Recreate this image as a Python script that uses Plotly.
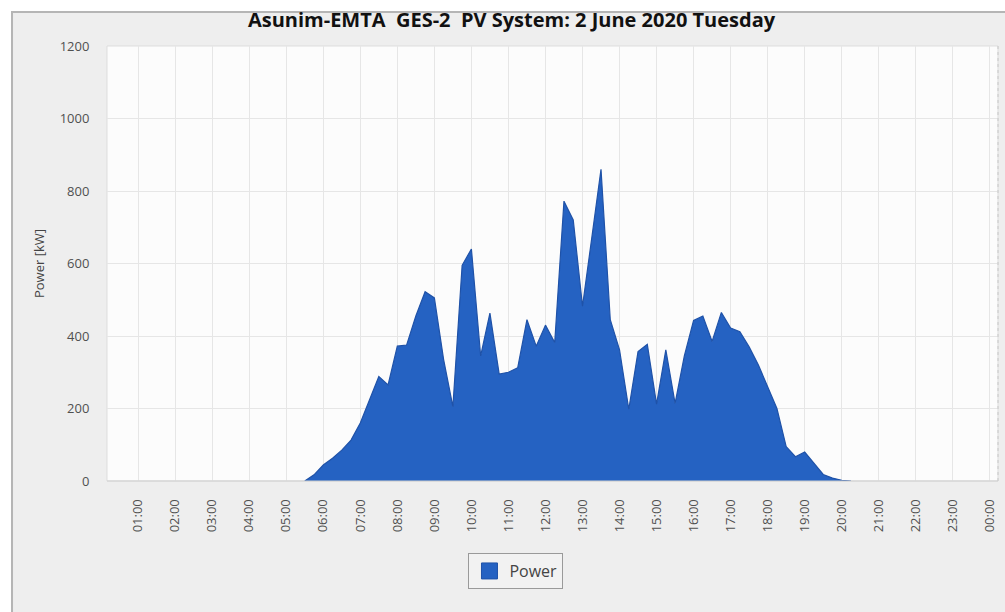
import plotly.graph_objects as go

# Time of day in hours (15-minute resolution) and power in kW
hours = [5.5, 5.75, 6.0, 6.25, 6.5, 6.75, 7.0, 7.25, 7.5, 7.75,
         8.0, 8.25, 8.5, 8.75, 9.0, 9.25, 9.5, 9.75, 10.0, 10.25,
         10.5, 10.75, 11.0, 11.25, 11.5, 11.75, 12.0, 12.25, 12.5, 12.75,
         13.0, 13.25, 13.5, 13.75, 14.0, 14.25, 14.5, 14.75, 15.0, 15.25,
         15.5, 15.75, 16.0, 16.25, 16.5, 16.75, 17.0, 17.25, 17.5, 17.75,
         18.0, 18.25, 18.5, 18.75, 19.0, 19.25, 19.5, 19.75, 20.0, 20.25]
power = [0, 17, 44, 63, 85, 113, 160, 223, 288, 265,
         372, 375, 455, 522, 505, 335, 205, 595, 640, 345,
         463, 295, 300, 312, 445, 372, 430, 382, 772, 720,
         482, 670, 860, 445, 362, 198, 357, 377, 212, 362,
         214, 345, 443, 455, 385, 465, 422, 412, 370, 320,
         262, 200, 95, 67, 80, 50, 18, 8, 2, 0]

tick_hours = list(range(1, 25))
tick_labels = ["01:00", "02:00", "03:00", "04:00", "05:00", "06:00", "07:00", "08:00",
               "09:00", "10:00", "11:00", "12:00", "13:00", "14:00", "15:00", "16:00",
               "17:00", "18:00", "19:00", "20:00", "21:00", "22:00", "23:00", "00:00"]
y_ticks = [0, 200, 400, 600, 800, 1000, 1200]

title_text = "Asunim-EMTA  GES-2  PV System: 2 June 2020 Tuesday"
series_name = "Power"
area_color = "#2562c2"

fig = go.Figure()
fig.add_trace(go.Scatter(
    x=hours, y=power, name=series_name, mode="lines",
    fill="tozeroy", fillcolor=area_color, showlegend=False,
    line=dict(color="#1f52a8", width=1.2),
))
# legend entry with a square swatch
fig.add_trace(go.Scatter(
    x=[None], y=[None], name=series_name, mode="markers",
    marker=dict(symbol="square", size=20, color=area_color,
                line=dict(color="#1f52a8", width=1)),
))

fig.update_layout(
    width=1005, height=612,
    margin=dict(l=107, r=7, t=46, b=131),
    paper_bgcolor="white",
    plot_bgcolor="#fcfcfc",
    title=dict(text="<b>" + title_text + "</b>", x=0.509, xanchor="center",
               y=0.967, yanchor="middle",
               font=dict(family="Open Sans", size=20, color="#111111")),
    showlegend=True,
    legend=dict(orientation="h", x=0.459, xanchor="center", y=-0.207, yanchor="middle",
                bgcolor="#f2f2f2", bordercolor="#9a9a9a", borderwidth=1,
                font=dict(family="Open Sans", size=16, color="#444444"),
                itemsizing="trace"),
    xaxis=dict(range=[0.16, 24.22], tickvals=tick_hours, ticktext=tick_labels,
               tickangle=-90, showgrid=True, gridcolor="#e6e6e6", gridwidth=1,
               zeroline=False, showline=False, ticks="outside", ticklen=12,
               tickcolor="rgba(0,0,0,0)", automargin=False,
               tickfont=dict(family="Open Sans", size=13, color="#505050")),
    yaxis=dict(range=[0, 1200], tickvals=y_ticks, showgrid=True, gridcolor="#e6e6e6",
               gridwidth=1, zeroline=False, showline=False, ticks="outside", ticklen=14,
               tickcolor="rgba(0,0,0,0)", automargin=False,
               tickfont=dict(family="Open Sans", size=13, color="#505050"),
               title=dict(text="Power [kW]", standoff=12,
                          font=dict(family="Open Sans", size=13, color="#444444"))),
    shapes=[
        dict(type="rect", xref="paper", yref="paper", x0=-0.1066, x1=1.02, y0=-0.33, y1=1.078,
             fillcolor="#eeeeee", line=dict(color="#b5b5b5", width=2), layer="below"),
        dict(type="rect", xref="paper", yref="paper", x0=0, x1=1, y0=0, y1=1,
             fillcolor="#fcfcfc", line=dict(color="#dddddd", width=1), layer="below"),
        dict(type="line", xref="paper", yref="paper", x0=1, x1=1, y0=0, y1=1,
             line=dict(color="#c8c8c8", width=1, dash="dot")),
        dict(type="line", xref="paper", yref="paper", x0=0, x1=1, y0=0, y1=0,
             line=dict(color="#cfcfcf", width=1)),
    ],
)

fig.write_html("out.html", config={"displayModeBar": False},
               post_script="document.body.style.margin='0';document.body.style.overflow='hidden';")
